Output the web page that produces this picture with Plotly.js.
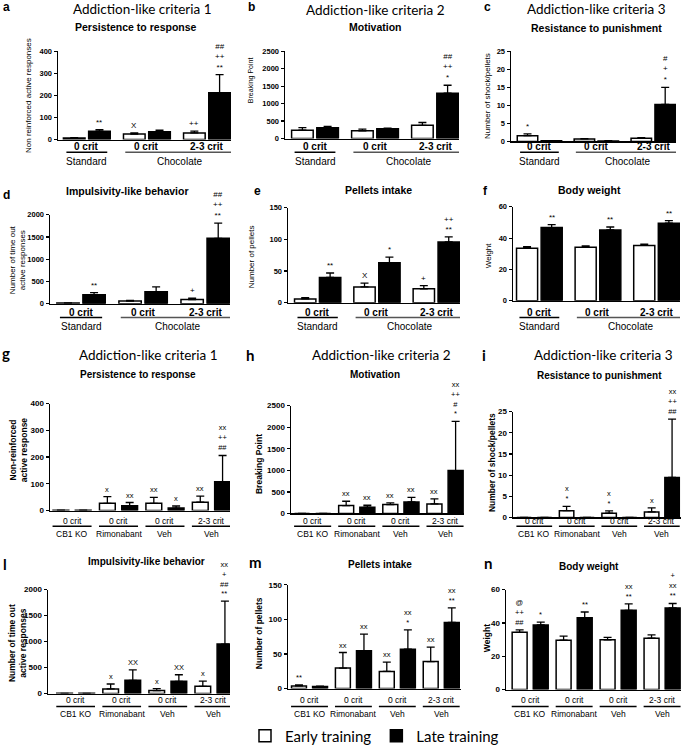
<!DOCTYPE html>
<html><head><meta charset="utf-8">
<script src="https://cdn.plot.ly/plotly-3.0.1.min.js"></script>
<style>html,body{margin:0;padding:0;background:#fff}</style>
</head><body><div id="chart" style="width:685px;height:753px"></div>
<script>
// ---------- labels ----------
const catsTop = ['0 crit', '0 crit', '2-3 crit'];
const dietLabels = ['Standard', 'Chocolate'];
const catsBottom = ['0 crit', '0 crit', '0 crit', '2-3 crit'];
const treatLabels = ['CB1 KO', 'Rimonabant', 'Veh', 'Veh'];
const legendNames = ['Early training', 'Late training'];

// ---------- data (mean, SEM) ----------
const aEarly = [7, 25, 30], aEarlyErr = [1, 5, 8];
const aLate = [38, 35, 212], aLateErr = [7, 7, 83];
const aSigEarly = ['', 'X', '++'], aSigLate = ['**', '', '##<br>++<br>**'];

const bEarly = [240, 220, 380], bEarlyErr = [70, 50, 80];
const bLate = [310, 280, 1300], bLateErr = [40, 20, 230];
const bSigEarly = ['', '', ''], bSigLate = ['', '', '##<br>++<br>*'];

const cEarly = [1.6, 0.7, 0.9], cEarlyErr = [0.5, 0.1, 0.15];
const cLate = [0.2, 0.15, 10.3], cLateErr = [0.05, 0.05, 4.7];
const cSigEarly = ['*', '', ''], cSigLate = ['', '', '#<br>+<br>*'];

const dEarly = [15, 60, 95], dEarlyErr = [5, 15, 30];
const dLate = [200, 270, 1470], dLateErr = [50, 110, 340];
const dSigEarly = ['', '', '+'], dSigLate = ['**', '', '##<br>++<br>**'];

const eEarly = [6, 25, 22], eEarlyErr = [2, 6, 5];
const eLate = [40, 63, 96], eLateErr = [7, 9, 8];
const eSigEarly = ['', 'X', '+'], eSigLate = ['**', '*', '++<br>**'];

const fEarly = [33.6, 34.2, 35.3], fEarlyErr = [0.9, 0.9, 0.9];
const fLate = [46.7, 45.2, 49.5], fLateErr = [1.9, 1.9, 1.7];
const fSigEarly = ['', '', ''], fSigLate = ['**', '**', '**'];

const gEarly = [1, 27, 27, 31], gEarlyErr = [0, 25, 22, 23];
const gLate = [1, 18, 9, 108], gLateErr = [0, 12, 8, 98];
const gSigEarly = ['', 'x', 'xx', 'xx'], gSigLate = ['', 'xx', 'x', 'xx<br>++<br>##'];

const hEarly = [0, 183, 206, 222], hEarlyErr = [0, 100, 40, 115];
const hLate = [0, 145, 268, 994], hLateErr = [0, 46, 107, 1140];
const hSigEarly = ['', 'xx', 'xx', 'xx'], hSigLate = ['', 'xx', 'xx', 'xx<br>++<br>#<br>*'];

const iEarly = [0, 1.6, 1.0, 1.3], iEarlyErr = [0, 1.0, 0.55, 0.95];
const iLate = [0, 0, 0, 9.45], iLateErr = [0, 0, 0, 13.75];
const iSigEarly = ['', 'x<br>*', 'x<br>*', 'x'], iSigLate = ['', '', '', 'xx<br>++<br>##'];

const lEarly = [5, 89, 57, 140], lEarlyErr = [0, 95, 38, 100];
const lLate = [5, 254, 235, 952], lLateErr = [0, 203, 127, 826];
const lSigEarly = ['', 'x', 'x', 'x'], lSigLate = ['', 'XX', 'XX', 'xx<br>+<br>##<br>**'];

const mEarly = [3.8, 29.6, 24.8, 39], mEarlyErr = [1.5, 22.5, 13.5, 21];
const mLate = [2.9, 54.5, 56.9, 95.6], mLateErr = [0.5, 24.3, 28, 21];
const mSigEarly = ['**', 'xx', 'xx', 'xx'], mSigLate = ['', 'xx', 'xx<br>*', 'xx<br>**'];

const nEarly = [34.4, 29.7, 29.9, 30.9], nEarlyErr = [1.4, 2.4, 1.4, 2.0];
const nLate = [38.8, 43.1, 47.6, 49], nLateErr = [1.7, 3.5, 3.9, 2.7];
const nSigEarly = ['@<br>++<br>##', '', '', ''], nSigLate = ['*', '**', 'xx<br>**', '+<br>xx<br>**'];

// ---------- layout helpers ----------
const W = 685, H = 753;
const fx = p => p / W, fy = p => 1 - p / H;
const ARIAL = 'Liberation Sans, Arial, sans-serif';
const CAL = 'Lato, Open Sans, sans-serif';

const rowLab = {1: [148, 154, 163], 2: [316, 321, 330], 3: [527, 532, 540], 4: [708, 714, 722]};

const panels = [
 {E:aEarly,EE:aEarlyErr,L:aLate,LE:aLateErr,SE:aSigEarly,SL:aSigLate,top:true,row:1,dom:[58,231,141,52],xr:[-0.48,2.4],ymax:400,dt:100,
  letter:['a',6,7],title:['Addiction-like criteria 1',142,9],sub:['Persistence to response',136,27],yt:['Non reinforced active responses',29,97,8]},
 {E:bEarly,EE:bEarlyErr,L:bLate,LE:bLateErr,SE:bSigEarly,SL:bSigLate,top:true,row:1,dom:[285,459,140,52],xr:[-0.5,2.4],ymax:2500,dt:500,
  letter:['b',252,7],title:['Addiction-like criteria 2',375,10],sub:['Motivation',375,27],yt:['Breaking Point',251,81,7]},
 {E:cEarly,EE:cEarlyErr,L:cLate,LE:cLateErr,SE:cSigEarly,SL:cSigLate,top:true,row:1,dom:[511,676,143,52],xr:[-0.5,2.4],ymax:25,dt:5,
  letter:['c',487,7],title:['Addiction-like criteria 3',596,9],sub:['Resistance to punishment',596,28],yt:['Number of shock/pellets',488,97,8]},
 {E:dEarly,EE:dEarlyErr,L:dLate,LE:dLateErr,SE:dSigEarly,SL:dSigLate,top:true,row:2,dom:[50,230,307,217],xr:[-0.5,2.4],ymax:2000,dt:500,
  letter:['d',6,197],title:null,sub:['Impulsivity-like behavior',128,193],yt:['Number of time out<br>active responses',17,263,8]},
 {E:eEarly,EE:eEarlyErr,L:eLate,LE:eLateErr,SE:eSigEarly,SL:eSigLate,top:true,row:2,dom:[288,460,306,210],xr:[-0.5,2.4],ymax:150,dt:50,
  letter:['e',257,193],title:null,sub:['Pellets intake',378,192],yt:['Number of pellets',251,260,8]},
 {E:fEarly,EE:fEarlyErr,L:fLate,LE:fLateErr,SE:fSigEarly,SL:fSigLate,top:true,row:2,dom:[513,680,304,209],xr:[-0.45,2.4],ymax:60,dt:20,
  letter:['f',486,193],title:null,sub:['Body weight',589,192],yt:['Weight',488,258,8]},
 {E:gEarly,EE:gEarlyErr,L:gLate,LE:gLateErr,SE:gSigEarly,SL:gSigLate,top:false,row:3,dom:[50,230,516,408],xr:[-0.475,3.4],ymax:400,dt:100,
  letter:['g',6,357],title:['Addiction-like criteria 1',148,359],sub:['Persistence to response',138,379],yt:['Non-reinforced<br>active response',18,455,8.5]},
 {E:hEarly,EE:hEarlyErr,L:hLate,LE:hLateErr,SE:hSigEarly,SL:hSigLate,top:false,row:3,dom:[291,464,519,410],xr:[-0.49,3.43],ymax:2500,dt:500,
  letter:['h',250,359],title:['Addiction-like criteria 2',381,359],sub:['Motivation',375,379],yt:['Breaking Point',259,469,8.5]},
 {E:iEarly,EE:iEarlyErr,L:iLate,LE:iLateErr,SE:iSigEarly,SL:iSigLate,top:false,row:3,dom:[513,681,523,416],xr:[-0.5,3.45],ymax:25,dt:5,
  letter:['i',484,359],title:['Addiction-like criteria 3',603,359],sub:['Resistance to punishment',599,380],yt:['Number of shock/pellets',492,468,8.5]},
 {E:lEarly,EE:lEarlyErr,L:lLate,LE:lLateErr,SE:lSigEarly,SL:lSigLate,top:false,row:4,dom:[48,230,701,596],xr:[-0.6,3.35],ymax:2000,dt:500,
  letter:['l',5,570],title:null,sub:['Impulsivity-like behavior',146,568],yt:['Number of time out<br>active responses',17,650,8.5]},
 {E:mEarly,EE:mEarlyErr,L:mLate,LE:mLateErr,SE:mSigEarly,SL:mSigLate,top:false,row:4,dom:[288,461,696,591],xr:[-0.49,3.45],ymax:150,dt:50,
  letter:['m',256,568],title:null,sub:['Pellets intake',380,571],yt:['Number of pellets',259,640,8.5]},
 {E:nEarly,EE:nEarlyErr,L:nLate,LE:nLateErr,SE:nSigEarly,SL:nSigLate,top:false,row:4,dom:[506,681,697,596],xr:[-0.55,3.43],ymax:60,dt:20,
  letter:['n',488,569],title:null,sub:['Body weight',589,573],yt:['Weight',487,645,8.5]},
];

const traces = [], annotations = [], shapes = [];
const layout = {
  width: W, height: H, margin: {l:0, r:0, t:0, b:0},
  paper_bgcolor: '#fff', plot_bgcolor: 'rgba(0,0,0,0)',
  barmode: 'overlay', showlegend: true,
  legend: {orientation: 'h', x: fx(245), xanchor: 'left', y: fy(744), yanchor: 'middle',
           font: {family: CAL, size: 15, color: '#000'}, bgcolor: 'rgba(0,0,0,0)', itemwidth: 30, traceorder: 'normal'},
  annotations, shapes
};

panels.forEach((p, k) => {
  const n = k + 1, xa = 'x' + (n === 1 ? '' : n), ya = 'y' + (n === 1 ? '' : n);
  const xk = 'xaxis' + (n === 1 ? '' : n), yk = 'yaxis' + (n === 1 ? '' : n);
  const off = p.top ? 0.21 : 0.24, bw = p.top ? 0.36 : 0.34;
  const cats = p.top ? catsTop : catsBottom;
  const idx = p.E.map((_, i) => i);
  const tickFs = p.top ? 7.5 : 8;
  layout[xk] = {domain: [fx(p.dom[0]), fx(p.dom[1])], range: p.xr, anchor: ya, showline: true, linecolor: '#000', linewidth: 1.5,
    showticklabels: false, ticks: '', showgrid: false, zeroline: false, fixedrange: true};
  const tv = []; for (let v = 0; v <= p.ymax + 1e-9; v += p.dt) tv.push(v);
  layout[yk] = {domain: [fy(p.dom[2]), fy(p.dom[3])], range: [0, p.ymax], anchor: xa, showline: true, linecolor: '#000', linewidth: 1.5,
    ticks: 'outside', ticklen: 3, tickwidth: 1.2, tickcolor: '#000', tickvals: tv, ticktext: tv.map(String),
    tickfont: {family: ARIAL, size: tickFs, color: '#000', weight: 'bold'}, showgrid: false, zeroline: false, fixedrange: true};
  const mk = (vals, errs, fill, name, sign) => ({
    type: 'bar', x: idx.map(i => i + sign * off), y: vals, width: bw, xaxis: xa, yaxis: ya,
    name, showlegend: k === 0, legendgroup: name,
    marker: {color: fill, line: {color: '#000', width: 1.5}},
    error_y: {type: 'data', symmetric: false, array: errs, arrayminus: errs.map(() => 0), color: '#000', thickness: 1.3, width: 4},
    hoverinfo: 'skip'
  });
  traces.push(mk(p.E, p.EE, '#fff', legendNames[0], -1));
  traces.push(mk(p.L, p.LE, '#000', legendNames[1], 1));
  // significance markers
  const sigFs = p.top ? 8 : 7.5;
  [[p.E, p.EE, p.SE, -1], [p.L, p.LE, p.SL, 1]].forEach(([v, e, s, sign]) => {
    s.forEach((t, i) => { if (!t) return;
      annotations.push({xref: xa, yref: ya, x: i + sign * off, y: v[i] + e[i], text: t, showarrow: false,
        yanchor: 'bottom', yshift: 1, font: {family: ARIAL, size: sigFs, color: '#000'}});
    });
  });
  // category labels, underlines, group labels
  const [cy, ly, gy] = rowLab[p.row];
  const catFs = p.top ? 10 : 8.5;
  cats.forEach((c, i) => annotations.push({xref: xa, yref: 'paper', x: i, y: fy(cy), text: c, showarrow: false,
    yanchor: 'middle', font: {family: ARIAL, size: catFs, color: '#000', weight: p.top ? 'bold' : 'normal'}}));
  const spans = p.top ? [[0, 0, dietLabels[0]], [1, 2, dietLabels[1]]] : treatLabels.map((t, i) => [i, i, t]);
  spans.forEach(([a, b, t], j) => {
    const hw = p.top ? (j === 0 ? 0.34 : 0.36) : 0.42;
    const x1 = p.top && j === 1 ? b + 0.5 : b + hw;
    shapes.push({type: 'line', xref: xa, yref: 'paper', x0: a - hw, x1: x1, y0: fy(ly), y1: fy(ly),
      line: {color: p.top && j === 1 ? '#555' : '#000', width: 1.5}});
    annotations.push({xref: xa, yref: 'paper', x: (a + b) / 2 + (p.top && j === 1 ? 0.05 : 0), y: fy(gy), text: t, showarrow: false,
      yanchor: 'middle', font: {family: ARIAL, size: catFs, color: '#000'}});
  });
  // texts
  annotations.push({xref: 'paper', yref: 'paper', x: fx(p.letter[1]), y: fy(p.letter[2]), text: '<b>' + p.letter[0] + '</b>',
    showarrow: false, xanchor: 'center', yanchor: 'middle', font: {family: p.top ? ARIAL : CAL, size: p.top ? 12 : 15, color: '#000'}});
  if (p.title) annotations.push({xref: 'paper', yref: 'paper', x: fx(p.title[1]), y: fy(p.title[2]), text: p.title[0],
    showarrow: false, xanchor: 'center', yanchor: 'middle', font: {family: CAL, size: 13.5, color: '#000'}});
  annotations.push({xref: 'paper', yref: 'paper', x: fx(p.sub[1]), y: fy(p.sub[2]), text: '<b>' + p.sub[0] + '</b>',
    showarrow: false, xanchor: 'center', yanchor: 'middle', font: {family: ARIAL, size: p.top ? 10.5 : 10, color: '#000'}});
  annotations.push({xref: 'paper', yref: 'paper', x: fx(p.yt[1]), y: fy(p.yt[2]), text: p.yt[0], textangle: -90,
    showarrow: false, xanchor: 'center', yanchor: 'middle',
    font: {family: ARIAL, size: p.yt[3], color: '#000', weight: p.top ? 'normal' : 'bold'}});
});

Plotly.newPlot('chart', traces, layout, {staticPlot: true, displayModeBar: false});
</script>
</body></html>
